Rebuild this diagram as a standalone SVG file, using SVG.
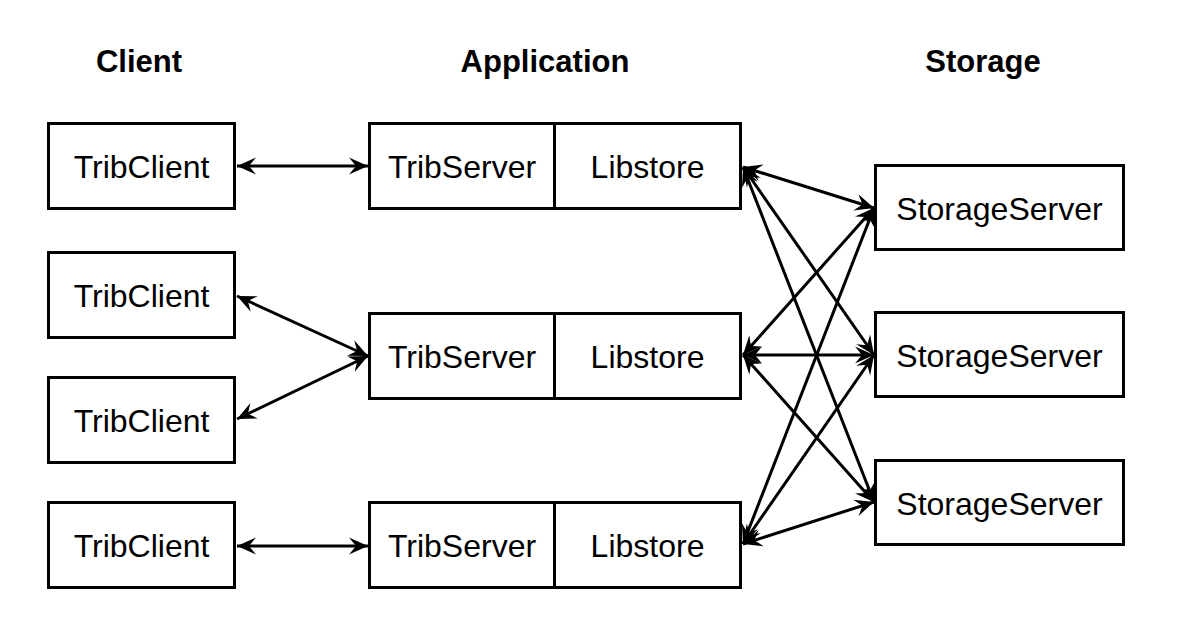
<svg xmlns="http://www.w3.org/2000/svg" width="1186" height="638" viewBox="0 0 1186 638">
<style>
.box{fill:#fff;stroke:#000;stroke-width:3}
.lbl{font-family:"Liberation Sans",Arial,sans-serif;font-size:32px;fill:#000;text-anchor:middle}
.hdr{font-family:"Liberation Sans",Arial,sans-serif;font-size:31px;font-weight:bold;fill:#000;text-anchor:middle}
.con{stroke:#000;stroke-width:3;fill:none;marker-start:url(#ah);marker-end:url(#ah)}
</style>
<defs>
<marker id="ah" markerUnits="userSpaceOnUse" viewBox="-20 -10 21 20" refX="0" refY="0" markerWidth="21" markerHeight="20" orient="auto-start-reverse">
<path d="M0,0 L-19,-8.5 L-12,0 L-19,8.5 Z" fill="#000"/>
</marker>
</defs>
<rect width="1186" height="638" fill="#fff"/>
<g id="headers">
<text class="hdr" x="139" y="72">Client</text>
<text class="hdr" x="545" y="72">Application</text>
<text class="hdr" x="983" y="72">Storage</text>
</g>
<g id="connectors">
<line class="con" x1="237" y1="166" x2="368" y2="166"/>
<line class="con" x1="237" y1="296" x2="368" y2="356"/>
<line class="con" x1="237" y1="419" x2="368" y2="356"/>
<line class="con" x1="237" y1="546" x2="368" y2="546"/>
<line class="con" x1="743" y1="167" x2="874" y2="208"/>
<line class="con" x1="743" y1="167" x2="874" y2="355"/>
<line class="con" x1="743" y1="167" x2="874" y2="502"/>
<line class="con" x1="743" y1="355" x2="874" y2="208"/>
<line class="con" x1="743" y1="355" x2="874" y2="355"/>
<line class="con" x1="743" y1="355" x2="874" y2="502"/>
<line class="con" x1="743" y1="544" x2="874" y2="208"/>
<line class="con" x1="743" y1="544" x2="874" y2="355"/>
<line class="con" x1="743" y1="544" x2="874" y2="502"/>
</g>
<g id="client1"><rect class="box" x="48.5" y="123.5" width="186" height="85"/><text class="lbl" x="141.5" y="178">TribClient</text></g>
<g id="client2"><rect class="box" x="48.5" y="252.5" width="186" height="85"/><text class="lbl" x="141.5" y="307">TribClient</text></g>
<g id="client3"><rect class="box" x="48.5" y="377.5" width="186" height="85"/><text class="lbl" x="141.5" y="432">TribClient</text></g>
<g id="client4"><rect class="box" x="48.5" y="502.5" width="186" height="85"/><text class="lbl" x="141.5" y="557">TribClient</text></g>
<g id="app1"><rect class="box" x="369.5" y="123.5" width="185" height="85"/><rect class="box" x="554.5" y="123.5" width="186" height="85"/><text class="lbl" x="462" y="178">TribServer</text><text class="lbl" x="647.5" y="178">Libstore</text></g>
<g id="app2"><rect class="box" x="369.5" y="313.5" width="185" height="85"/><rect class="box" x="554.5" y="313.5" width="186" height="85"/><text class="lbl" x="462" y="368">TribServer</text><text class="lbl" x="647.5" y="368">Libstore</text></g>
<g id="app3"><rect class="box" x="369.5" y="502.5" width="185" height="85"/><rect class="box" x="554.5" y="502.5" width="186" height="85"/><text class="lbl" x="462" y="557">TribServer</text><text class="lbl" x="647.5" y="557">Libstore</text></g>
<g id="storage1"><rect class="box" x="875.5" y="165.5" width="248" height="84"/><text class="lbl" x="999.5" y="220">StorageServer</text></g>
<g id="storage2"><rect class="box" x="875.5" y="312.5" width="248" height="84"/><text class="lbl" x="999.5" y="367">StorageServer</text></g>
<g id="storage3"><rect class="box" x="875.5" y="460.5" width="248" height="84"/><text class="lbl" x="999.5" y="515">StorageServer</text></g>
</svg>
